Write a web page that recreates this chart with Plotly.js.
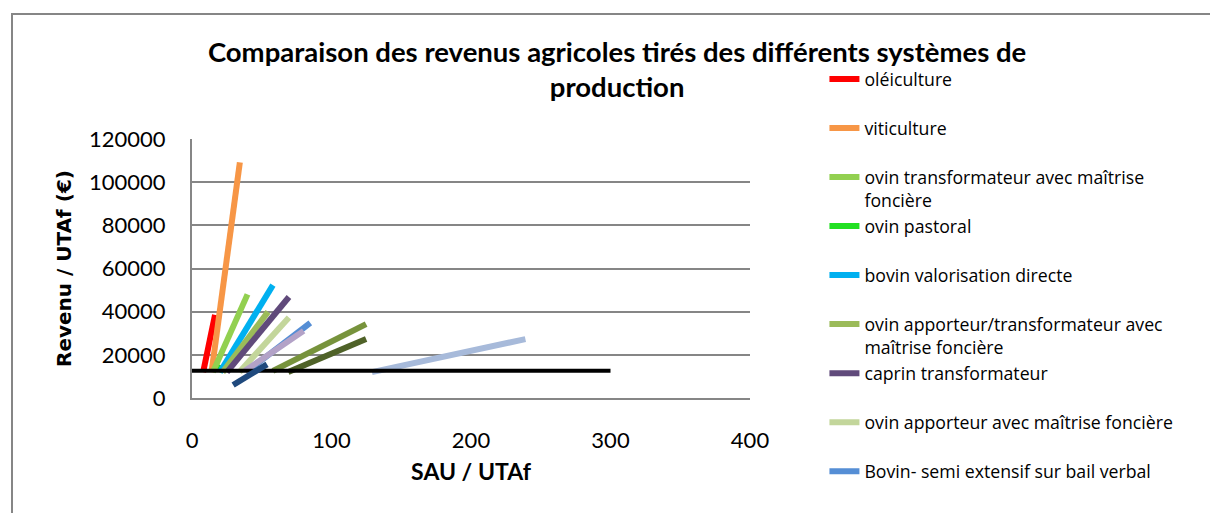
<!DOCTYPE html>
<html><head><meta charset="utf-8">
<script src="https://cdn.plot.ly/plotly-3.0.1.min.js"></script>
<style>html,body{margin:0;padding:0;background:#fff;}</style>
</head><body>
<div id="chart" style="width:1210px;height:513px;"></div>
<script>
// Series names (legend shows only the first nine, as in the original)
const seriesNames = [
  "oléiculture",
  "viticulture",
  "ovin transformateur avec maîtrise<br>foncière",
  "ovin pastoral",
  "bovin valorisation directe",
  "ovin apporteur/transformateur avec<br>maîtrise foncière",
  "caprin transformateur",
  "ovin apporteur avec maîtrise foncière",
  "Bovin- semi extensif sur bail verbal",
  "série 10", "série 11", "série 12", "série 13", "série 14", "seuil"
];
const seriesColors = [
  "#FF0000", "#F79646", "#92D050", "#22E022", "#00B0F0", "#9BBB59",
  "#604A7B", "#C3D69B", "#558ED5", "#B3A2C7", "#77933C", "#4F6228",
  "#A7BADA", "#000000", "#1F497D"
];
// SAU / UTAf (start, end)
const sauStart = [8, 14, 15, 19.5, 20, 22, 25, 34, 40, 38, 58, 69, 129, 0, 29.5];
const sauEnd   = [16.5, 34.3, 39.8, 21.5, 58, 54.5, 69.5, 69.5, 84.8, 80, 124.8, 124.8, 239, 300, 53.8];
// Revenu / UTAf (start, end)
const revStart = [12000, 12000, 12000, 12000, 12000, 12000, 12000, 12000, 12600, 12600, 12600, 12000, 12000, 12600, 6000];
const revEnd   = [38500, 109200, 48000, 15000, 52300, 39900, 46800, 37300, 34800, 31100, 34200, 27300, 27300, 12600, 15600];
const legendCount = 9;

const xTicks = [0, 100, 200, 300, 400];
const yTicks = [0, 20000, 40000, 60000, 80000, 100000, 120000];

const traces = seriesNames.map((n, i) => {
  let label = n;
  if (i < legendCount && n.indexOf("<br>") < 0) label = n + "<br>\u00a0";
  return {
    type: "scatter", mode: "lines",
    x: [sauStart[i], sauEnd[i]],
    y: [revStart[i], revEnd[i]],
    name: label,
    showlegend: i < legendCount,
    line: {color: seriesColors[i], width: i === 13 ? 4 : 6},
    hoverinfo: "skip"
  };
});

const layout = {
  width: 1210, height: 513,
  margin: {l: 192, r: 460, t: 139, b: 115},
  paper_bgcolor: "#ffffff", plot_bgcolor: "#ffffff",
  font: {family: "Lato, 'Open Sans', sans-serif", color: "#000"},
  title: {
    text: "<b>Comparaison des revenus agricoles tirés des différents systèmes de<br>production</b>",
    font: {family: "Lato, sans-serif", size: 27.5, color: "#000"},
    x: 0.51, xanchor: "center", y: 0.880, yanchor: "middle"
  },
  xaxis: {
    range: [0, 400], tickvals: xTicks, ticktext: xTicks.map(String),
    showgrid: false, zeroline: false, showline: true, linecolor: "#868686", linewidth: 2,
    ticks: "", tickfont: {size: 22, family: "Lato, sans-serif"}, ticklabelstandoff: 22,
    title: {text: "<b>SAU / UTAf</b>", font: {size: 23, family: "Lato, sans-serif"}, standoff: 11},
    fixedrange: true
  },
  yaxis: {
    range: [0, 120000], tickvals: yTicks, ticktext: yTicks.map(String),
    showgrid: true, gridcolor: "#868686", gridwidth: 2,
    zeroline: false, showline: true, linecolor: "#868686", linewidth: 2,
    ticks: "", tickfont: {size: 22, family: "Lato, sans-serif"}, ticklabelstandoff: 20,
    title: {text: "<b>Revenu / UTAf (€)</b>", font: {size: 20, family: "'DejaVu Sans', sans-serif"}, standoff: 12},
    fixedrange: true
  },
  legend: {
    x: 1.1334, xanchor: "left", y: 1.283, yanchor: "top",
    font: {size: 17.7, family: "'Open Sans', sans-serif", color: "#000"},
    valign: "top", bgcolor: "rgba(0,0,0,0)", itemwidth: 30, tracegroupgap: 0,
    maxheight: 480
  },
  shapes: [{
    type: "rect", xref: "paper", yref: "paper",
    x0: (12 - 192) / 558, x1: (1230 - 192) / 558,
    y0: (398 - 530) / 259, y1: (398 - 14) / 259,
    line: {color: "#868686", width: 2}, fillcolor: "rgba(0,0,0,0)", layer: "below"
  }],
  showlegend: true
};

Plotly.newPlot("chart", traces, layout, {displayModeBar: false, staticPlot: true});
</script>
</body></html>
